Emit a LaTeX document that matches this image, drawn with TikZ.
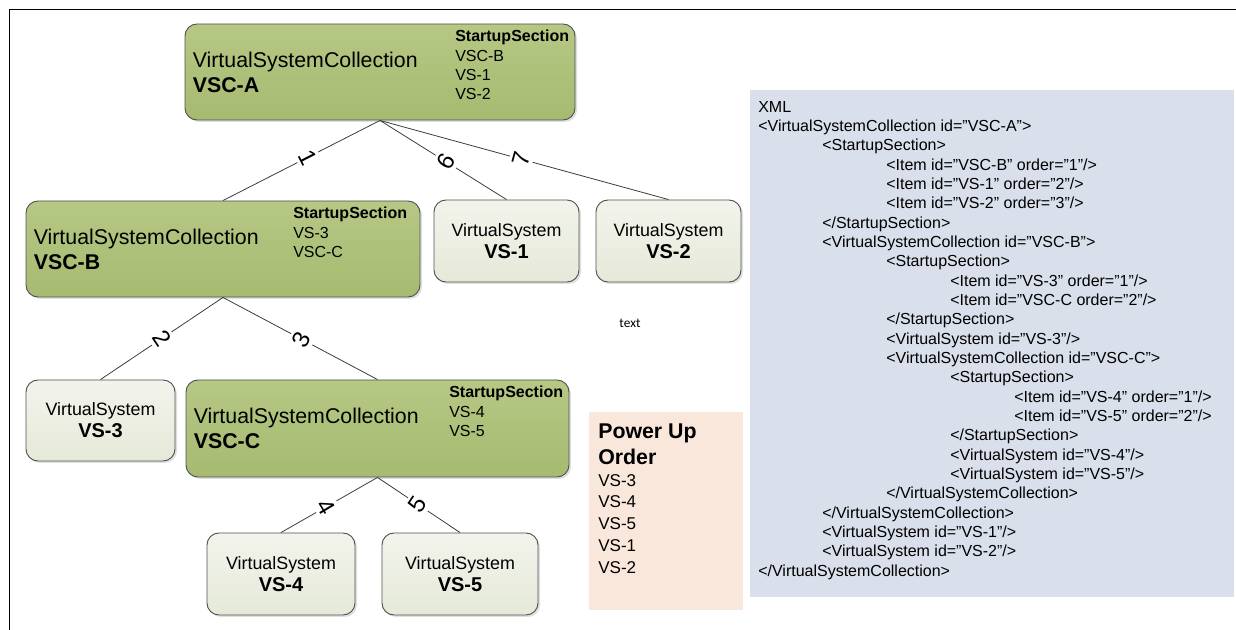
\documentclass[tikz,border=0pt]{standalone}
\usepackage{fontspec}
\setmainfont{Liberation Sans}
\newfontfamily\notefont{Carlito}
\usetikzlibrary{positioning,shadows}
\definecolor{vscgreen}{RGB}{166,186,112}
\definecolor{vscgreentop}{RGB}{182,200,132}
\definecolor{vsgray}{RGB}{229,233,216}
\definecolor{vsgraytop}{RGB}{242,244,236}
\definecolor{boxline}{RGB}{80,80,80}
\definecolor{edgegray}{RGB}{60,60,60}
\definecolor{powerfill}{RGB}{250,231,220}
\definecolor{xmlfill}{RGB}{218,223,236}
\newcommand{\xmltab}{\hspace*{48pt}}

\begin{document}
\begin{tikzpicture}[
    x=0.75pt, y=-0.75pt,
    vsc/.style={rectangle, rounded corners=9pt, draw=boxline, line width=0.7pt, top color=vscgreentop, bottom color=vscgreen, drop shadow={shadow xshift=1.5pt, shadow yshift=-1.5pt, opacity=0.25}, minimum height=72pt},
    vs/.style={rectangle, rounded corners=9pt, draw=boxline, line width=0.7pt, top color=vsgraytop, bottom color=vsgray, drop shadow={shadow xshift=1.5pt, shadow yshift=-1.5pt, opacity=0.25}, minimum width=108.75pt, minimum height=61.5pt, align=center, font=\fontsize{13.4}{16.5}\selectfont},
    vsctitle/.style={anchor=west, inner sep=0pt, align=left, font=\fontsize{16}{18.75}\selectfont},
    startup/.style={anchor=north west, inner sep=0pt, align=left, font=\fontsize{12}{14.5}\selectfont},
    edge/.style={draw=edgegray, line width=0.6pt},
    edgenum/.style={fill=white, inner sep=2.5pt, font=\fontsize{18}{18}\selectfont},
    frameline/.style={draw=black, line width=1pt}
]
\useasboundingbox (0,0) rectangle (1236,630);

% Frame
\draw[frameline] (9.5,630) -- (9.5,9.5) -- (1236,9.5);

% Top collection
\node[vsc, minimum width=292.5pt] (vscA) at (380,72) {};
\node[vsctitle, right=6pt of vscA.west] (vscAtitle) {VirtualSystemCollection\\\textbf{VSC-A}};
\node[startup] (vscAstart) at (455,30) {\textbf{StartupSection}\\VSC-B\\VS-1\\VS-2};

% Second level
\node[vsc, minimum width=295.5pt] (vscB) at (223,249) {};
\node[vsctitle, right=6pt of vscB.west] (vscBtitle) {VirtualSystemCollection\\\textbf{VSC-B}};
\node[startup] (vscBstart) at (293,207) {\textbf{StartupSection}\\VS-3\\VSC-C};

\node[vs] (vs1) at (506.5,241) {VirtualSystem\\{\fontsize{15}{16.5}\selectfont\bfseries VS-1}};
\node[vs] (vs2) at (668.5,241) {VirtualSystem\\{\fontsize{15}{16.5}\selectfont\bfseries VS-2}};

% Third level
\node[vs, minimum width=111.75pt, minimum height=60.75pt] (vs3) at (100.5,420.5) {VirtualSystem\\{\fontsize{15}{16.5}\selectfont\bfseries VS-3}};
\node[vsc, minimum width=287.25pt, minimum height=72.75pt] (vscC) at (377.5,428.5) {};
\node[vsctitle, right=6pt of vscC.west] (vscCtitle) {VirtualSystemCollection\\\textbf{VSC-C}};
\node[startup] (vscCstart) at (449,386) {\textbf{StartupSection}\\VS-4\\VS-5};

% Fourth level
\node[vs, minimum width=111pt] (vs4) at (281,574) {VirtualSystem\\{\fontsize{15}{16.5}\selectfont\bfseries VS-4}};
\node[vs, minimum width=117pt] (vs5) at (460,574) {VirtualSystem\\{\fontsize{15}{16.5}\selectfont\bfseries VS-5}};

% Connectors with start order
\draw[edge] (vscA.south) -- node[edgenum, pos=0.46, rotate=-63] {1} (vscB.north);
\draw[edge] (vscA.south) -- node[edgenum, pos=0.52, rotate=58] {6} (vs1.north);
\draw[edge] (vscA.south) -- node[edgenum, pos=0.49, rotate=74.5] {7} (vs2.north);
\draw[edge] (vscB.south) -- node[edgenum, pos=0.5, rotate=-56] {2} (vs3.north);
\draw[edge] (vscB.south) -- node[edgenum, pos=0.51, rotate=62] {3} (vscC.north);
\draw[edge] (vscC.south) -- node[edgenum, pos=0.53, rotate=-59] {4} (vs4.north);
\draw[edge] (vscC.south) -- node[edgenum, pos=0.49, rotate=56] {5} (vs5.north);

% Stray note
\node[font=\notefont\fontsize{10}{12}\selectfont, inner sep=0pt] (note) at (630,323) {text};

% Power up order
\node[rectangle, fill=powerfill, minimum width=115.5pt, minimum height=148.5pt] (power) at (666,511) {};
\node[anchor=north west, inner sep=0pt, align=left, font=\fontsize{16}{19.5}\selectfont\bfseries] (powertitle) at (598,424) {Power Up\\Order};
\node[anchor=north west, inner sep=0pt, align=left, font=\fontsize{12.8}{16.3}\selectfont] (powerlist) at (598,474) {VS-3\\VS-4\\VS-5\\VS-1\\VS-2};

% XML listing
\node[rectangle, fill=xmlfill, minimum width=363pt, minimum height=380.25pt] (xml) at (992,343.5) {};
\node[anchor=north west, inner sep=0pt, align=left, font=\fontsize{12}{14.5}\selectfont] (xmltext) at (758,101) {%
XML\\
<VirtualSystemCollection id=”VSC-A”>\\
\xmltab<StartupSection>\\
\xmltab\xmltab<Item id=”VSC-B" order=”1”/>\\
\xmltab\xmltab<Item id=”VS-1" order=”2”/>\\
\xmltab\xmltab<Item id=”VS-2" order=”3”/>\\
\xmltab</StartupSection>\\
\xmltab<VirtualSystemCollection id=”VSC-B”>\\
\xmltab\xmltab<StartupSection>\\
\xmltab\xmltab\xmltab<Item id=”VS-3" order=”1”/>\\
\xmltab\xmltab\xmltab<Item id=”VSC-C order=”2”/>\\
\xmltab\xmltab</StartupSection>\\
\xmltab\xmltab<VirtualSystem id=”VS-3”/>\\
\xmltab\xmltab<VirtualSystemCollection id=”VSC-C”>\\
\xmltab\xmltab\xmltab<StartupSection>\\
\xmltab\xmltab\xmltab\xmltab<Item id=”VS-4" order=”1”/>\\
\xmltab\xmltab\xmltab\xmltab<Item id=”VS-5" order=”2”/>\\
\xmltab\xmltab\xmltab</StartupSection>\\
\xmltab\xmltab\xmltab<VirtualSystem id=”VS-4”/>\\
\xmltab\xmltab\xmltab<VirtualSystem id=”VS-5”/>\\
\xmltab\xmltab</VirtualSystemCollection>\\
\xmltab</VirtualSystemCollection>\\
\xmltab<VirtualSystem id=”VS-1”/>\\
\xmltab<VirtualSystem id=”VS-2”/>\\
</VirtualSystemCollection>};

\end{tikzpicture}
\end{document}
